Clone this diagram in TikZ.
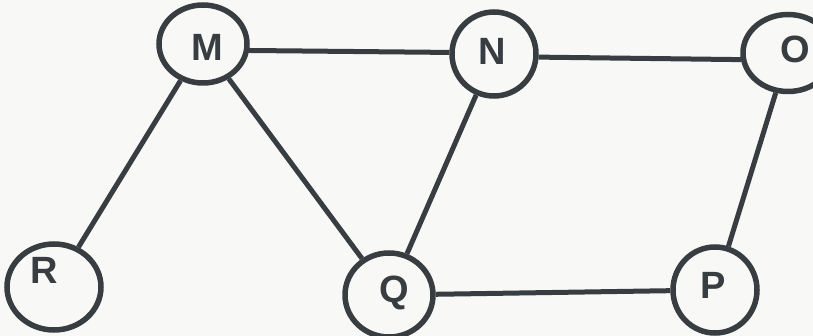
\documentclass[tikz,border=0pt]{standalone}
\usepackage{fontspec}
\setmainfont{Liberation Sans}
\usetikzlibrary{shapes.geometric}
\definecolor{ink}{HTML}{373D41}
\definecolor{paper}{HTML}{F8F8F6}
\tikzset{
  vertex/.style={ellipse, draw=ink, line width=5.5pt, inner sep=0pt},
  tag/.style={font=\bfseries\fontsize{38}{38}\selectfont, text=ink, inner sep=0pt},
  edge/.style={draw=ink, line width=5pt}
}
\begin{document}
\begin{tikzpicture}[x=1pt,y=-1pt]
  \useasboundingbox (0,0) rectangle (813,336);
  \fill[paper] (0,0) rectangle (813,336);
  \clip (0,0) rectangle (813,336);

  % vertices
  \node[vertex, minimum width=88pt, minimum height=78pt] (M) at (203,44) {};
  \node[vertex, minimum width=84pt, minimum height=84pt] (N) at (494,54) {};
  \node[vertex, minimum width=90pt, minimum height=77pt] (O) at (788,53) {};
  \node[vertex, minimum width=94pt, minimum height=86pt] (R) at (54,287) {};
  \node[vertex, minimum width=88pt, minimum height=84pt] (Q) at (389,295) {};
  \node[vertex, minimum width=84pt, minimum height=86pt] (P) at (715,290) {};

  % letters
  \node[tag] (tM) at (207,47) {M};
  \node[tag] (tN) at (492,51) {N};
  \node[tag] (tO) at (795,49) {O};
  \node[tag] (tR) at (44,270) {R};
  \node[tag] (tQ) at (394,293) {Q};
  \node[tag] (tP) at (713,285) {P};

  % edges
  \draw[edge] (M.-8) -- (N.178);
  \draw[edge] (N.-4) -- (O.188);
  \draw[edge] (M) -- (R);
  \draw[edge] (M) -- (Q);
  \draw[edge] (N) -- (Q);
  \draw[edge] (O) -- (P);
  \draw[edge] (Q) -- (P);
\end{tikzpicture}
\end{document}
